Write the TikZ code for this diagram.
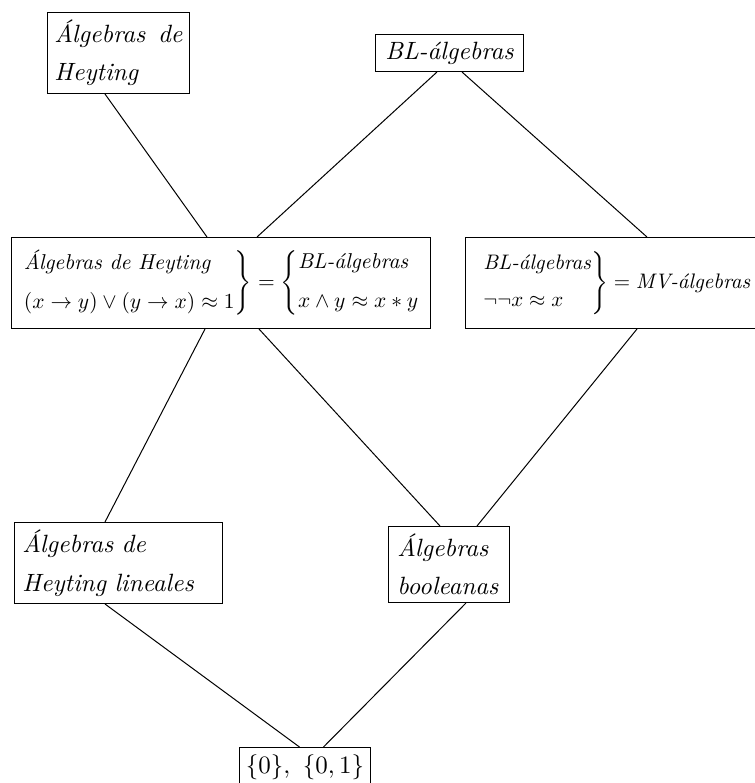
\documentclass[tikz,border=0pt]{standalone}
\usepackage{amsmath}
\usepackage{fontspec}
\usepackage{graphicx}
\usetikzlibrary{calc}
\newlength\upx
\setlength\upx{0.4pt}
\tikzset{
  box/.style={draw, anchor=north west, inner sep=0pt, font=\itshape},
  link/.style={draw, line width=0.4pt},
}
\begin{document}
\begin{tikzpicture}[x=1\upx, y=-1\upx]
\useasboundingbox (0,0) rectangle (755,783);
% boxes
\node[box, minimum width=142\upx, minimum height=81\upx, text width=128\upx, align=left] (A) at (47,12)
  {Álgebras\hfill de\\[8\upx]Heyting};
\node[box, minimum width=148\upx, minimum height=37\upx] (B) at (375,34) {BL-álgebras};
\node[box, minimum width=419\upx, minimum height=91\upx] (C) at (11,237)
  {\scalebox{0.86}{$\left.\begin{array}{@{}l@{}}\textit{Álgebras de Heyting}\\[6pt] (x\to y)\vee(y\to x)\approx 1\end{array}\right\}=\left\{\begin{array}{@{}l@{}}\textit{BL-álgebras}\\[6pt] x\wedge y\approx x*y\end{array}\right.$}};
\node[box, minimum width=300\upx, minimum height=91\upx] (D) at (465,237)
  {\scalebox{0.84}{$\left.\begin{array}{@{}l@{}}\textit{BL-álgebras}\\[6pt] \neg\neg x\approx x\end{array}\right\}=\textit{MV-álgebras}$}};
\node[box, minimum width=208\upx, minimum height=81\upx, text width=192\upx, align=left] (E) at (14,522)
  {Álgebras de\\[9\upx]Heyting lineales};
\node[box, minimum width=121\upx, minimum height=76\upx, text width=103\upx, align=left] (F) at (388,526)
  {Álgebras\\[8\upx]booleanas};
\node[draw, anchor=north, inner xsep=6\upx, inner ysep=7\upx] (G) at (305,747) {$\{0\},\ \{0,1\}$};
% connectors
\draw[link] ($(A.south west)+(58,0)$) -- ($(C.north west)+(196,0)$);
\draw[link] ($(B.south west)+(62,0)$) -- ($(C.north west)+(246,0)$);
\draw[link] ($(B.south west)+(87,0)$) -- ($(D.north west)+(182,0)$);
\draw[link] ($(C.south west)+(194,0)$) -- ($(E.north west)+(91,0)$);
\draw[link] ($(C.south west)+(248,0)$) -- ($(F.north west)+(52,0)$);
\draw[link] ($(D.south west)+(172,0)$) -- ($(F.north west)+(89,0)$);
\draw[link] ($(E.south west)+(91,0)$) -- ($(G.north west)+(60,0)$);
\draw[link] ($(F.south west)+(78,0)$) -- ($(G.north west)+(84,0)$);
\end{tikzpicture}
\end{document}
